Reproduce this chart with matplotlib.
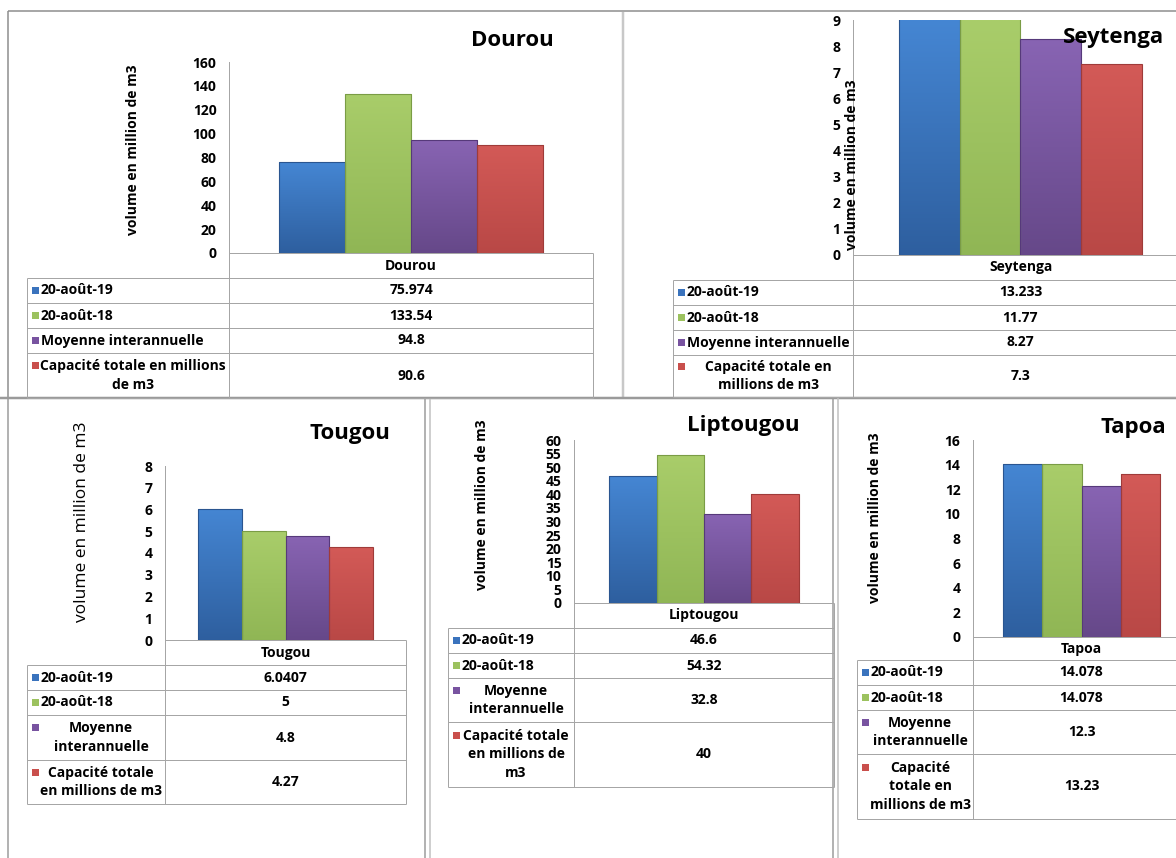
import textwrap
import numpy as np
import matplotlib
matplotlib.use("Agg")
import matplotlib.pyplot as plt
from matplotlib.colors import LinearSegmentedColormap
from matplotlib.patches import Rectangle

plt.rcParams['font.family'] = ['Open Sans', 'DejaVu Sans']

# data
stations = ["Dourou", "Seytenga", "Tougou", "Liptougou", "Tapoa"]
series_names = ["20-août-19", "20-août-18", "Moyenne interannuelle",
                "Capacité totale en millions de m3"]
aout_19 = [75.974, 13.233, 6.0407, 46.6, 14.078]
aout_18 = [133.54, 11.77, 5, 54.32, 14.078]
moyenne = [94.8, 8.27, 4.8, 32.8, 12.3]
capacite = [90.6, 7.3, 4.27, 40, 13.23]
y_max = [160, 9, 8, 60, 16]
y_step = [20, 1, 1, 5, 2]
y_label = "volume en million de m3"

# look
grad_cols = [("#4586d3", "#2e5f9f"), ("#a9cd6a", "#90b655"),
             ("#8864b3", "#664889"), ("#d35a57", "#b94846")]
edge_cols = ["#2a5590", "#7a9c45", "#56397a", "#9f3b39"]
mark_cols = ["#3a73bd", "#9cc25f", "#7853a0", "#c94f4c"]
line_c = "#a6a6a6"
fs = 10

# pixel layout of each panel (axis x, table right, top tick y, zero y, table left,
# row borders, title pos, y-label pos, wrap width)
layout = [
    dict(ax=229, right=593, top=62, zero=253, tleft=27, rows=[253, 278, 303, 328, 353, 398],
         title=(512, 40), ylab=(133, 150), wrap=27, ylab_size=10, ylab_w='bold'),
    dict(ax=853, right=1188, top=20, zero=255, tleft=673, rows=[255, 280, 305, 330, 355, 397],
         title=(1114, 37), ylab=(852, 165), wrap=21, ylab_size=10, ylab_w='bold'),
    dict(ax=165, right=406, top=466, zero=640, tleft=27, rows=[640, 665, 690, 715, 760, 804],
         title=(350, 433), ylab=(82, 522), wrap=17, ylab_size=12.5, ylab_w='normal'),
    dict(ax=574, right=834, top=440, zero=603, tleft=448, rows=[603, 628, 653, 678, 722, 787],
         title=(743, 425), ylab=(482, 505), wrap=15, ylab_size=10, ylab_w='bold'),
    dict(ax=973, right=1190, top=440, zero=637, tleft=857, rows=[637, 660, 685, 710, 754, 819],
         title=(1133, 427), ylab=(875, 518), wrap=14, ylab_size=10, ylab_w='bold'),
]

W, H = 1176, 858
fig = plt.figure(figsize=(W / 100, H / 100), dpi=100)

def frac(x0, y0, x1, y1):
    return [x0 / W, 1 - y1 / H, (x1 - x0) / W, (y1 - y0) / H]

ov = fig.add_axes([0, 0, 1, 1], zorder=10)
ov.set_xlim(0, W)
ov.set_ylim(H, 0)
ov.axis('off')
ov.patch.set_alpha(0)

def hline(y, x0, x1, c=line_c, lw=1.0):
    ov.plot([x0, x1], [y, y], color=c, lw=lw * 0.72, solid_capstyle='butt')

def vline(x, y0, y1, c=line_c, lw=1.0):
    ov.plot([x, x], [y0, y1], color=c, lw=lw * 0.72, solid_capstyle='butt')

# panel borders
hline(11, 8, W, c="#8c8c8c", lw=1.5)
vline(8, 11, 397, c="#8c8c8c", lw=1.5)
vline(623, 12, 397, c="#c8c8c8", lw=2.5)
hline(397.5, 0, W, c="#9a9a9a", lw=2.5)
vline(8, 398, H, c="#9a9a9a", lw=1.5)
vline(425, 398, H, c="#9a9a9a", lw=1.5)
vline(430, 398, H, c="#c0c0c0", lw=1.5)
vline(833, 398, H, c="#9a9a9a", lw=1.5)
vline(838, 398, H, c="#c0c0c0", lw=1.5)

grad = np.linspace(0, 1, 200).reshape(-1, 1)
cmaps = [LinearSegmentedColormap.from_list("c%d" % i, c) for i, c in enumerate(grad_cols)]
bw = 0.182

for k, name in enumerate(stations):
    L = layout[k]
    vals = [aout_19[k], aout_18[k], moyenne[k], capacite[k]]

    ax = fig.add_axes(frac(L['ax'], L['top'], L['right'], L['zero']), zorder=1)
    ax.patch.set_alpha(0)
    offs = (np.arange(4) - 1.5) * bw
    bars = ax.bar(offs, vals, width=bw, facecolor='none', edgecolor=edge_cols,
                  linewidth=0.8, zorder=3)
    for b, cm in zip(bars, cmaps):
        x0 = b.get_x()
        top = min(b.get_height(), y_max[k])
        im = ax.imshow(grad, extent=(x0, x0 + b.get_width(), 0, top),
                       aspect='auto', cmap=cm, zorder=2)
        im.set_clip_path(b)
    ax.set_xlim(-0.5, 0.5)
    ax.set_ylim(0, y_max[k])
    ax.set_yticks(np.arange(0, y_max[k] + y_step[k] / 2, y_step[k]))
    ax.set_xticks([])
    ax.tick_params(axis='y', length=0, pad=9, labelsize=fs)
    for t in ax.get_yticklabels():
        t.set_fontweight('bold')
    for s in ['top', 'right', 'bottom']:
        ax.spines[s].set_visible(False)
    ax.spines['left'].set_color(line_c)
    ax.spines['left'].set_linewidth(0.72)

    # data table under the chart
    ax_x, right, tl, rows = L['ax'], L['right'], L['tleft'], L['rows']
    hline(rows[0], ax_x, right)
    for y in rows[1:]:
        hline(y, tl, right)
    vline(ax_x, rows[0], rows[-1])
    vline(right, rows[0], rows[-1])
    vline(tl, rows[1], rows[-1])
    cx = (ax_x + right) / 2
    ov.text(cx, (rows[0] + rows[1]) / 2, name, ha='center', va='center',
            fontsize=fs, fontweight='bold')
    for i in range(4):
        yc = (rows[i + 1] + rows[i + 2]) / 2
        ov.text(cx, yc, f"{vals[i]:g}", ha='center', va='center', fontsize=fs, fontweight='bold')
        lab = textwrap.fill(series_names[i], L['wrap'])
        n = lab.count("\n") + 1
        my = yc - (n - 1) * 19.5 / 2
        ov.add_patch(Rectangle((tl + 5, my - 3.5), 7, 7, facecolor=mark_cols[i],
                               edgecolor='none'))
        if n == 1:
            ov.text(tl + 14, yc, lab, ha='left', va='center', fontsize=fs, fontweight='bold')
        else:
            ov.text((tl + 14 + ax_x - 4) / 2, yc, lab, ha='center', va='center',
                    multialignment='center', fontsize=fs, fontweight='bold', linespacing=1.45)

    ov.text(L['title'][0], L['title'][1], name, ha='center', va='center',
            fontsize=16, fontweight='bold')
    ov.text(L['ylab'][0], L['ylab'][1], y_label, rotation=90, ha='center', va='center',
            fontsize=L['ylab_size'], fontweight=L['ylab_w'])

fig.savefig("out.png", dpi=100, facecolor='white')
